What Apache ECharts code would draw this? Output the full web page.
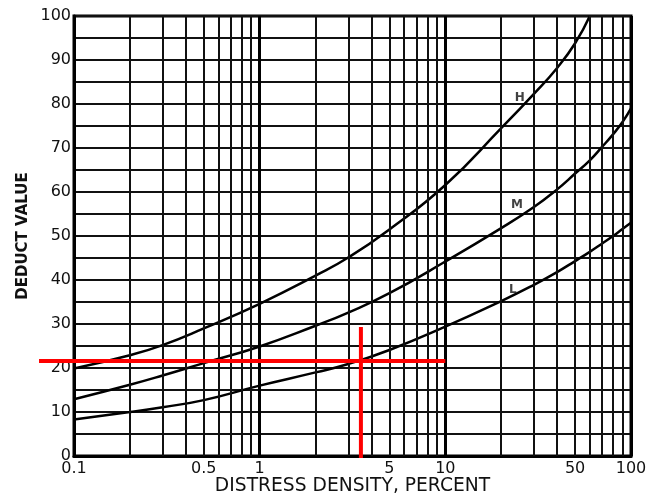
<!DOCTYPE html>
<html><head><meta charset="utf-8">
<script src="https://cdn.jsdelivr.net/npm/echarts@6/dist/echarts.min.js"></script>
<style>html,body{margin:0;padding:0;background:#fff}#c{width:663px;height:497px}</style>
</head><body><div id="c"></div>
<script>
// tick labels
const xTickLabels = [0.1, 0.5, 1, 5, 10, 50, 100];
const yTickLabels = [0, 10, 20, 30, 40, 50, 60, 70, 80, 90, 100];
// intermediate vertical grid values (log paper)
const xGridValues = [0.2,0.3,0.4,0.5,0.6,0.7,0.8,0.9, 2,3,4,5,6,7,8,9, 20,30,40,50,60,70,80,90];

// curves: severity H, M, L
const hX = [0.1,0.2,0.3,0.5,1,2,3,5,10,20,30,40,50,60];
const hY = [19.9,22.9,25.2,29.0,34.6,41.0,45.1,51.5,61.6,74.5,82.3,88.2,93.8,100];
const mX = [0.1,0.2,0.3,0.5,1,2,3,5,10,20,30,40,50,60,70,80,90,100];
const mY = [12.9,16.2,18.3,21.1,24.9,29.6,32.6,37.0,44.2,51.8,56.6,60.6,64.2,67.2,70.3,73.1,75.9,79.0];
const lX = [0.1,0.2,0.3,0.5,1,2,3,5,10,20,30,40,50,60,70,80,90,100];
const lY = [8.3,10.0,11.1,12.7,16.0,19.0,20.9,24.1,29.4,35.2,38.9,41.8,44.3,46.4,48.3,50.0,51.6,53.0];

// curve labels
const labelNames = ['H', 'M', 'L'];
const labelX = [25.2, 24.3, 23.1];
const labelY = [81.4, 57.0, 37.7];

// red reading lines
const redHX = [0.0648, 10];
const redHY = [21.6, 21.6];
const redVX = [3.51, 3.51];
const redVY = [-0.45, 29.3];

const zip = (a, b) => a.map((v, i) => [v, b[i]]);
const font = '"DejaVu Sans", sans-serif';

const chart = echarts.init(document.getElementById('c'), null, {renderer: 'canvas'});
const curveStyle = {color: '#000', width: 2.5};
const smoothOpts = {smooth: 0.5};
chart.setOption({
  animation: false,
  backgroundColor: '#fff',
  grid: {left: 74, right: 32, top: 16, bottom: 41, show: true, borderColor: '#000', borderWidth: 3,
    containLabel: false, outerBoundsMode: 'none'},
  xAxis: {
    type: 'log', logBase: 10, min: 0.1, max: 100,
    name: 'DISTRESS DENSITY, PERCENT', nameLocation: 'middle', nameGap: 21, nameMoveOverlap: false,
    nameTextStyle: {fontFamily: font, fontSize: 18.7, color: '#111'},
    axisLine: {show: true, lineStyle: {color: '#000', width: 3}},
    axisTick: {show: false},
    axisLabel: {customValues: xTickLabels, fontFamily: font, fontSize: 16, color: '#111', margin: 5,
      formatter: v => String(+v.toPrecision(3))},
    splitLine: {show: true, lineStyle: {color: '#000', width: 3}}
  },
  yAxis: {
    type: 'value', min: 0, max: 100, interval: 5,
    name: 'DEDUCT VALUE', nameLocation: 'middle', nameGap: 43, nameMoveOverlap: false,
    nameTextStyle: {fontFamily: font, fontSize: 15, fontWeight: 'bold', color: '#111'},
    axisLine: {show: true, lineStyle: {color: '#000', width: 3}},
    axisTick: {show: false},
    axisLabel: {fontFamily: font, fontSize: 16, color: '#111', margin: 3,
      formatter: v => (yTickLabels.indexOf(v) >= 0 ? String(v) : '')},
    splitLine: {show: true, lineStyle: {color: '#111', width: 2}}
  },
  series: [
    Object.assign({type: 'line', name: 'H', data: zip(hX, hY), symbol: 'none', lineStyle: curveStyle, z: 3}, smoothOpts),
    Object.assign({type: 'line', name: 'M', data: zip(mX, mY), symbol: 'none', lineStyle: curveStyle, z: 3}, smoothOpts),
    Object.assign({type: 'line', name: 'L', data: zip(lX, lY), symbol: 'none', lineStyle: curveStyle, z: 3,
      markLine: {silent: true, symbol: ['none', 'none'], label: {show: false},
        lineStyle: {color: '#111', width: 2, type: 'solid'},
        emphasis: {disabled: true},
        data: xGridValues.map(v => ({xAxis: v}))}}, smoothOpts),
    {type: 'scatter', data: labelNames.map((n, i) => ({value: [labelX[i], labelY[i]], name: n})),
      symbolSize: 0, z: 4,
      label: {show: true, position: 'inside', formatter: p => p.name, fontFamily: font, fontSize: 12, fontWeight: 'bold', color: '#111'}},
    {type: 'line', data: zip(redVX, redVY), symbol: 'none', clip: false, lineStyle: {color: '#ff0000', width: 4}, z: 10}
  ]
});

// horizontal red reading line: extends left of the axis, so extrapolate through the axis scale
const pA = chart.convertToPixel({xAxisIndex: 0, yAxisIndex: 0}, [0.1, redHY[0]]);
const pB = chart.convertToPixel({xAxisIndex: 0, yAxisIndex: 0}, [1, redHY[0]]);
const pEnd = chart.convertToPixel({xAxisIndex: 0, yAxisIndex: 0}, [redHX[1], redHY[1]]);
const xStart = pA[0] + (pB[0] - pA[0]) * Math.log10(redHX[0] / 0.1);
chart.setOption({
  graphic: [{type: 'line', z: 100, silent: true,
    shape: {x1: xStart, y1: pA[1], x2: pEnd[0], y2: pEnd[1]},
    style: {stroke: '#ff0000', lineWidth: 4}}]
});
</script></body></html>
